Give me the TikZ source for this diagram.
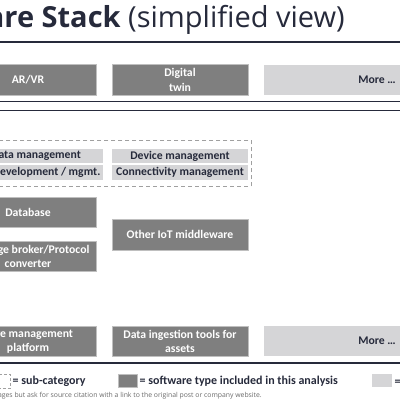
\documentclass[tikz,border=0pt]{standalone}
\usepackage{fontspec}
\setmainfont{Carlito}
\newfontfamily\titlefont{Open Sans}
\definecolor{dgray}{HTML}{7F7F7F}
\definecolor{bgray}{HTML}{BFBFBF}
\definecolor{lgray}{HTML}{D5D5D7}
\definecolor{navy}{HTML}{262A3B}
\definecolor{dashc}{HTML}{A0A0A0}
\definecolor{notec}{HTML}{6A6A6A}
\begin{document}
\begin{tikzpicture}[x=1pt,y=-1pt,
  boxtext/.style={font=\bfseries\fontsize{11.7}{14.3}\selectfont, align=center, inner sep=0pt},
  dbox/.style={boxtext, fill=dgray, draw=bgray, line width=0.6pt, text=white, minimum width=136pt, minimum height=30.5pt},
  lbox/.style={boxtext, fill=lgray, draw=none, text=navy, minimum height=30.5pt},
  sbox/.style={boxtext, fill=lgray, draw=none, text=navy, minimum width=136pt},
  rule/.style={draw=navy, line width=1.5pt},
  legtext/.style={font=\bfseries\fontsize{12}{14}\selectfont, text=navy, anchor=west, inner sep=0pt}
]
\useasboundingbox (0,0) rectangle (400,400);

% title
\node[anchor=base east, inner sep=0pt, text=navy, font=\titlefont\fontsize{29}{34}\selectfont] (title) at (345,27.3) {\textbf{IoT Software Stack} (simplified view)};
\draw[rule] (-10,42) -- (410,42);

% top row
\node[dbox] (arvr) at (28,79.8) {AR/VR};
\node[dbox] (dtwin) at (180,79.8) {Digital\\twin};
\node[lbox, minimum width=226pt] (more1) at (377,79.8) {More …};

\draw[rule] (-10,101.5) -- (410,101.5);
\draw[rule] (-10,110.7) -- (410,110.7);

% IoT platform sub-category
\draw[dashc, dashed, dash pattern=on 4pt off 3pt, line width=0.8pt] (-45,140) rectangle (251,186.7);
\node[sbox, minimum width=134pt, minimum height=13.7pt] (datam) at (36,155.9) {Data management};
\node[sbox, minimum width=134pt, minimum height=15pt] (appdev) at (36,172.5) {App development / mgmt.};
\node[sbox, minimum height=13.7pt] (devm) at (180,155.9) {Device management};
\node[sbox, minimum height=15pt] (connm) at (180,172.5) {Connectivity management};

% middleware
\node[dbox] (db) at (28,212.5) {Database};
\node[dbox, minimum height=30pt] (broker) at (28,256.7) {Message broker/Protocol\\converter};
\node[dbox, minimum height=30.7pt] (other) at (180,234.7) {Other IoT middleware};

% bottom row
\node[dbox, minimum height=30.3pt] (edge) at (28,341.2) {Edge management\\platform};
\node[dbox, minimum height=30.3pt] (ingest) at (180,341.2) {Data ingestion tools for\\assets};
\node[lbox, minimum width=226pt, minimum height=30.3pt] (more2) at (377,341.2) {More …};

\draw[navy, line width=2pt] (-10,362.5) -- (410,362.5);

% legend
\draw[dashc, dashed, dash pattern=on 3pt off 2pt, line width=0.8pt] (-8,374) rectangle (10.5,388);
\node[legtext] (l1) at (12.5,381) {= sub-category};
\node[fill=dgray, draw=bgray, line width=0.6pt, minimum width=19pt, minimum height=13pt, inner sep=0pt] (i2) at (127.5,380.5) {};
\node[legtext] (l2) at (139.5,381) {= software type included in this analysis};
\node[fill=lgray, minimum width=20pt, minimum height=13pt, inner sep=0pt] (i3) at (382,380.5) {};
\node[legtext] (l3) at (394.5,381) {= other};

% footnote
\node[anchor=east, inner sep=0pt, text=notec, font=\titlefont\fontsize{6.85}{8}\selectfont] (note) at (262,395.5) {Feel free to share these images but ask for source citation with a link to the original post or company website.};
\end{tikzpicture}
\end{document}
